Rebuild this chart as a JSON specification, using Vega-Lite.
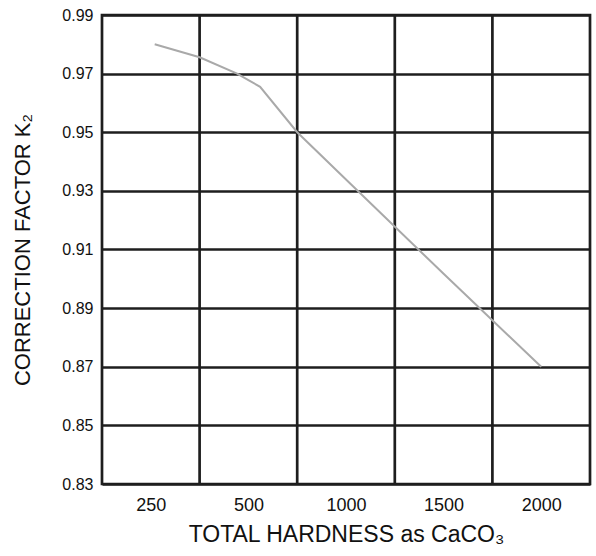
{
  "$schema": "https://vega.github.io/schema/vega-lite/v6.json",
  "width": 488,
  "height": 469,
  "autosize": {"type": "none"},
  "padding": {"left": 102, "top": 15, "right": 6, "bottom": 72},
  "background": "white",
  "config": {
    "view": {"stroke": "#1e1e1e", "strokeWidth": 2.7},
    "font": "Liberation Sans"
  },
  "datasets": {
    "curve": [
      {"hardness": 260, "k2": 0.980},
      {"hardness": 375, "k2": 0.9756},
      {"hardness": 471, "k2": 0.970},
      {"hardness": 500, "k2": 0.9678},
      {"hardness": 560, "k2": 0.9655},
      {"hardness": 750, "k2": 0.950},
      {"hardness": 1000, "k2": 0.9339},
      {"hardness": 1500, "k2": 0.9017},
      {"hardness": 2000, "k2": 0.870}
    ],
    "vgrid": [
      {"hardness": 375},
      {"hardness": 750},
      {"hardness": 1250},
      {"hardness": 1750}
    ]
  },
  "layer": [
    {
      "data": {"name": "vgrid"},
      "mark": {"type": "rule", "color": "#1e1e1e", "strokeWidth": 2.7},
      "encoding": {
        "x": {
          "field": "hardness",
          "type": "quantitative",
          "scale": {
            "type": "linear",
            "domain": [125, 250, 500, 1000, 1500, 2000, 2250],
            "range": [0, 48.8, 146.4, 244, 341.6, 439.2, 488],
            "nice": false,
            "zero": false
          },
          "axis": {
            "title": "TOTAL HARDNESS as CaCO₃",
            "values": [250, 500, 1000, 1500, 2000],
            "format": "d",
            "grid": false,
            "ticks": false,
            "domain": false,
            "labelFont": "Liberation Sans",
            "labelFontSize": 18,
            "labelColor": "#111111",
            "labelPadding": 12,
            "titleFont": "Liberation Sans",
            "titleFontSize": 23,
            "titleFontWeight": "normal",
            "titleColor": "#111111",
            "titlePadding": 9
          }
        }
      }
    },
    {
      "data": {"name": "curve"},
      "mark": {"type": "line", "color": "#a9a9a9", "strokeWidth": 2},
      "encoding": {
        "x": {"field": "hardness", "type": "quantitative"},
        "y": {
          "field": "k2",
          "type": "quantitative",
          "scale": {"domain": [0.83, 0.99], "nice": false, "zero": false},
          "axis": {
            "title": "CORRECTION FACTOR K₂",
            "values": [0.83, 0.85, 0.87, 0.89, 0.91, 0.93, 0.95, 0.97, 0.99],
            "format": ".2f",
            "grid": true,
            "gridColor": "#1e1e1e",
            "gridWidth": 2.7,
            "gridOpacity": 1,
            "ticks": false,
            "domain": false,
            "labelFont": "Liberation Sans",
            "labelFontSize": 16,
            "labelColor": "#111111",
            "labelPadding": 9,
            "titleFont": "Liberation Sans",
            "titleFontSize": 22,
            "titleFontWeight": "normal",
            "titleColor": "#111111",
            "titlePadding": 27
          }
        }
      }
    }
  ]
}
